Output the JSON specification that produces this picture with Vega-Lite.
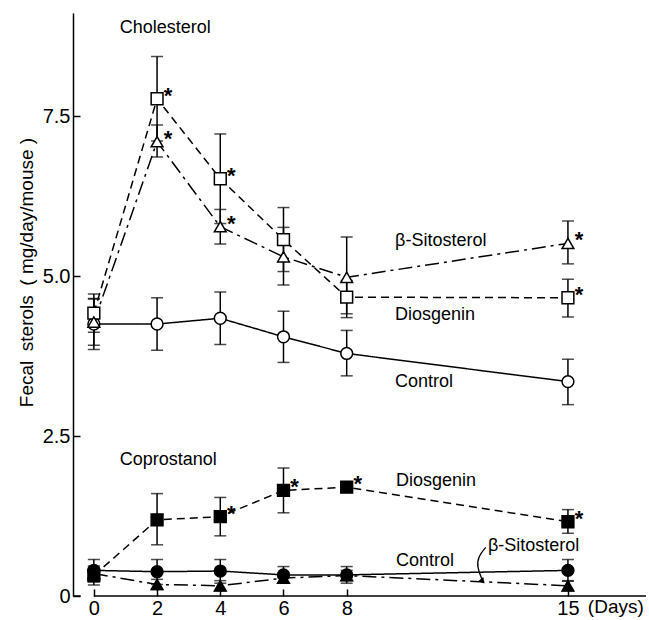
{
  "$schema": "https://vega.github.io/schema/vega-lite/v6.json",
  "width": 573,
  "height": 583,
  "autosize": {"type": "none"},
  "padding": {"left": 73, "top": 13, "right": 3, "bottom": 24},
  "background": "white",
  "config": {
    "view": {"stroke": null},
    "font": "Liberation Sans",
    "axis": {"grid": false, "domainColor": "black", "tickColor": "black", "labelColor": "black", "titleColor": "black", "labelFont": "Liberation Sans", "titleFont": "Liberation Sans", "titleFontWeight": "normal"}
  },
  "datasets": {
    "series": [
      {"panel": "Cholesterol", "group": "Control", "series": "chol-control", "day": 0, "value": 4.25, "lo": 3.85, "hi": 4.65, "star": false},
      {"panel": "Cholesterol", "group": "Control", "series": "chol-control", "day": 2, "value": 4.25, "lo": 3.84, "hi": 4.66, "star": false},
      {"panel": "Cholesterol", "group": "Control", "series": "chol-control", "day": 4, "value": 4.34, "lo": 3.93, "hi": 4.75, "star": false},
      {"panel": "Cholesterol", "group": "Control", "series": "chol-control", "day": 6, "value": 4.05, "lo": 3.65, "hi": 4.45, "star": false},
      {"panel": "Cholesterol", "group": "Control", "series": "chol-control", "day": 8, "value": 3.79, "lo": 3.44, "hi": 4.15, "star": false},
      {"panel": "Cholesterol", "group": "Control", "series": "chol-control", "day": 15, "value": 3.35, "lo": 2.99, "hi": 3.7, "star": false},
      {"panel": "Cholesterol", "group": "Diosgenin", "series": "chol-dios", "day": 0, "value": 4.42, "lo": 4.12, "hi": 4.72, "star": false},
      {"panel": "Cholesterol", "group": "Diosgenin", "series": "chol-dios", "day": 2, "value": 7.77, "lo": 7.11, "hi": 8.43, "star": true},
      {"panel": "Cholesterol", "group": "Diosgenin", "series": "chol-dios", "day": 4, "value": 6.52, "lo": 5.82, "hi": 7.22, "star": true},
      {"panel": "Cholesterol", "group": "Diosgenin", "series": "chol-dios", "day": 6, "value": 5.57, "lo": 5.07, "hi": 6.07, "star": false},
      {"panel": "Cholesterol", "group": "Diosgenin", "series": "chol-dios", "day": 8, "value": 4.67, "lo": 4.41, "hi": 4.93, "star": false},
      {"panel": "Cholesterol", "group": "Diosgenin", "series": "chol-dios", "day": 15, "value": 4.66, "lo": 4.36, "hi": 4.95, "star": true},
      {"panel": "Cholesterol", "group": "Sitosterol", "series": "chol-sito", "day": 0, "value": 4.28, "lo": 3.92, "hi": 4.64, "star": false},
      {"panel": "Cholesterol", "group": "Sitosterol", "series": "chol-sito", "day": 2, "value": 7.1, "lo": 6.86, "hi": 7.36, "star": true},
      {"panel": "Cholesterol", "group": "Sitosterol", "series": "chol-sito", "day": 4, "value": 5.77, "lo": 5.5, "hi": 6.04, "star": true},
      {"panel": "Cholesterol", "group": "Sitosterol", "series": "chol-sito", "day": 6, "value": 5.3, "lo": 4.86, "hi": 5.76, "star": false},
      {"panel": "Cholesterol", "group": "Sitosterol", "series": "chol-sito", "day": 8, "value": 4.98, "lo": 4.35, "hi": 5.61, "star": false},
      {"panel": "Cholesterol", "group": "Sitosterol", "series": "chol-sito", "day": 15, "value": 5.51, "lo": 5.19, "hi": 5.86, "star": true},
      {"panel": "Coprostanol", "group": "Control", "series": "copro-control", "day": 0, "value": 0.4, "lo": 0.22, "hi": 0.57, "star": false},
      {"panel": "Coprostanol", "group": "Control", "series": "copro-control", "day": 2, "value": 0.38, "lo": 0.18, "hi": 0.57, "star": false},
      {"panel": "Coprostanol", "group": "Control", "series": "copro-control", "day": 4, "value": 0.39, "lo": 0.2, "hi": 0.57, "star": false},
      {"panel": "Coprostanol", "group": "Control", "series": "copro-control", "day": 6, "value": 0.33, "lo": 0.2, "hi": 0.46, "star": false},
      {"panel": "Coprostanol", "group": "Control", "series": "copro-control", "day": 8, "value": 0.33, "lo": 0.2, "hi": 0.46, "star": false},
      {"panel": "Coprostanol", "group": "Control", "series": "copro-control", "day": 15, "value": 0.4, "lo": 0.23, "hi": 0.57, "star": false},
      {"panel": "Coprostanol", "group": "Diosgenin", "series": "copro-dios", "day": 0, "value": 0.32, "lo": 0.17, "hi": 0.47, "star": false},
      {"panel": "Coprostanol", "group": "Diosgenin", "series": "copro-dios", "day": 2, "value": 1.19, "lo": 0.8, "hi": 1.6, "star": false},
      {"panel": "Coprostanol", "group": "Diosgenin", "series": "copro-dios", "day": 4, "value": 1.24, "lo": 0.94, "hi": 1.54, "star": true},
      {"panel": "Coprostanol", "group": "Diosgenin", "series": "copro-dios", "day": 6, "value": 1.65, "lo": 1.3, "hi": 2.0, "star": true},
      {"panel": "Coprostanol", "group": "Diosgenin", "series": "copro-dios", "day": 8, "value": 1.7, "lo": 1.66, "hi": 1.74, "star": true},
      {"panel": "Coprostanol", "group": "Diosgenin", "series": "copro-dios", "day": 15, "value": 1.16, "lo": 0.98, "hi": 1.35, "star": true},
      {"panel": "Coprostanol", "group": "Sitosterol", "series": "copro-sito", "day": 0, "value": 0.35, "lo": 0.25, "hi": 0.45, "star": false},
      {"panel": "Coprostanol", "group": "Sitosterol", "series": "copro-sito", "day": 2, "value": 0.18, "lo": 0.1, "hi": 0.26, "star": false},
      {"panel": "Coprostanol", "group": "Sitosterol", "series": "copro-sito", "day": 4, "value": 0.16, "lo": 0.08, "hi": 0.24, "star": false},
      {"panel": "Coprostanol", "group": "Sitosterol", "series": "copro-sito", "day": 6, "value": 0.28, "lo": 0.2, "hi": 0.36, "star": false},
      {"panel": "Coprostanol", "group": "Sitosterol", "series": "copro-sito", "day": 8, "value": 0.32, "lo": 0.24, "hi": 0.4, "star": false},
      {"panel": "Coprostanol", "group": "Sitosterol", "series": "copro-sito", "day": 15, "value": 0.16, "lo": 0.08, "hi": 0.24, "star": false}
    ],
    "labels": [
      {"day": 0.82, "value": 8.87, "text": "Cholesterol"},
      {"day": 9.53, "value": 5.54, "text": "β-Sitosterol"},
      {"day": 9.53, "value": 4.39, "text": "Diosgenin"},
      {"day": 9.53, "value": 3.35, "text": "Control"},
      {"day": 0.82, "value": 2.12, "text": "Coprostanol"},
      {"day": 9.56, "value": 1.79, "text": "Diosgenin"},
      {"day": 9.56, "value": 0.55, "text": "Control"},
      {"day": 12.47, "value": 0.78, "text": "β-Sitosterol"}
    ],
    "arrow": [
      {"order": 1, "day": 12.4, "value": 0.76},
      {"order": 2, "day": 12.16, "value": 0.62},
      {"order": 3, "day": 12.12, "value": 0.45},
      {"order": 4, "day": 12.3, "value": 0.24}
    ]
  },
  "layer": [
    {
      "data": {"values": [{}]},
      "mark": {"type": "rule", "color": "black", "strokeWidth": 1.5},
      "encoding": {
        "x": {"datum": 0, "type": "quantitative", "scale": {"domain": [-0.66, 17.47], "nice": false}},
        "x2": {"datum": 17.47},
        "y": {"datum": 0, "type": "quantitative"}
      }
    },
    {
      "data": {"values": [{}]},
      "mark": {"type": "rule", "color": "black", "strokeWidth": 1.5},
      "encoding": {
        "x": {"datum": -0.66, "type": "quantitative"},
        "x2": {"datum": -0.42},
        "y": {"datum": 0, "type": "quantitative"}
      }
    },
    {
      "data": {"name": "series"},
      "mark": {"type": "line", "color": "black", "strokeWidth": 1.5},
      "encoding": {
        "x": {"field": "day", "type": "quantitative", "title": null, "scale": {"domain": [-0.66, 17.47], "nice": false},
          "axis": {"values": [0, 2, 4, 6, 8, 15], "domain": false, "tickSize": -7, "tickWidth": 1.5, "labelFontSize": 20, "labelPadding": 9, "labelFlush": false}},
        "y": {"field": "value", "type": "quantitative", "title": "Fecal\u2002sterols\u2002( mg/day/mouse )", "scale": {"domain": [0, 9.11], "nice": false},
          "axis": {"values": [0, 2.5, 5, 7.5], "labelExpr": "datum.value == 0 ? '0' : format(datum.value, '.1f')", "titleFontSize": 19, "titleX": -47, "titleY": 259, "titleBaseline": "middle", "domainWidth": 1.5, "tickSize": -7, "tickWidth": 1.5, "labelFontSize": 20, "labelPadding": 10}},
        "detail": {"field": "series"},
        "strokeDash": {"field": "group", "type": "nominal", "scale": {"domain": ["Control", "Diosgenin", "Sitosterol"], "range": [[1, 0], [8, 5], [14, 5, 3, 5]]}, "legend": null}
      }
    },
    {
      "data": {"name": "series"},
      "mark": {"type": "errorbar", "color": "black", "rule": {"strokeWidth": 1.5}, "ticks": {"size": 12, "thickness": 1.5, "color": "black"}},
      "encoding": {
        "x": {"field": "day", "type": "quantitative", "title": null},
        "y": {"field": "lo", "type": "quantitative", "title": "Fecal\u2002sterols\u2002( mg/day/mouse )"},
        "y2": {"field": "hi"}
      }
    },
    {
      "data": {"name": "series"},
      "mark": {"type": "point", "filled": true, "stroke": "black", "strokeWidth": 1.5, "opacity": 1, "size": 140},
      "encoding": {
        "x": {"field": "day", "type": "quantitative", "title": null},
        "y": {"field": "value", "type": "quantitative", "title": "Fecal\u2002sterols\u2002( mg/day/mouse )"},
        "shape": {"field": "group", "type": "nominal", "scale": {"domain": ["Control", "Diosgenin", "Sitosterol"], "range": ["circle", "square", "triangle-up"]}, "legend": null},
        "fill": {"field": "panel", "type": "nominal", "scale": {"domain": ["Cholesterol", "Coprostanol"], "range": ["white", "black"]}, "legend": null}
      }
    },
    {
      "data": {"name": "series"},
      "transform": [{"filter": "datum.star"}],
      "mark": {"type": "text", "text": "*", "fontSize": 22, "fontWeight": "bold", "dx": 11, "dy": -3, "baseline": "middle", "color": "black"},
      "encoding": {
        "x": {"field": "day", "type": "quantitative", "title": null},
        "y": {"field": "value", "type": "quantitative", "title": "Fecal\u2002sterols\u2002( mg/day/mouse )"}
      }
    },
    {
      "data": {"name": "labels"},
      "mark": {"type": "text", "align": "left", "baseline": "middle", "fontSize": 18, "color": "black"},
      "encoding": {
        "x": {"field": "day", "type": "quantitative", "title": null},
        "y": {"field": "value", "type": "quantitative", "title": "Fecal\u2002sterols\u2002( mg/day/mouse )"},
        "text": {"field": "text"}
      }
    },
    {
      "data": {"name": "arrow"},
      "mark": {"type": "line", "color": "black", "strokeWidth": 1.3, "interpolate": "basis"},
      "encoding": {
        "x": {"field": "day", "type": "quantitative", "title": null},
        "y": {"field": "value", "type": "quantitative", "title": "Fecal\u2002sterols\u2002( mg/day/mouse )"},
        "order": {"field": "order"}
      }
    },
    {
      "data": {"values": [{}]},
      "mark": {"type": "point", "shape": "triangle-down", "filled": true, "color": "black", "size": 45, "angle": -40, "opacity": 1},
      "encoding": {
        "x": {"datum": 12.3, "type": "quantitative"},
        "y": {"datum": 0.23, "type": "quantitative"}
      }
    },
    {
      "data": {"values": [{}]},
      "mark": {"type": "text", "text": "(Days)", "align": "left", "baseline": "middle", "fontSize": 19, "color": "black"},
      "encoding": {
        "x": {"datum": 15.63, "type": "quantitative"},
        "y": {"datum": -0.17, "type": "quantitative"}
      }
    }
  ]
}
